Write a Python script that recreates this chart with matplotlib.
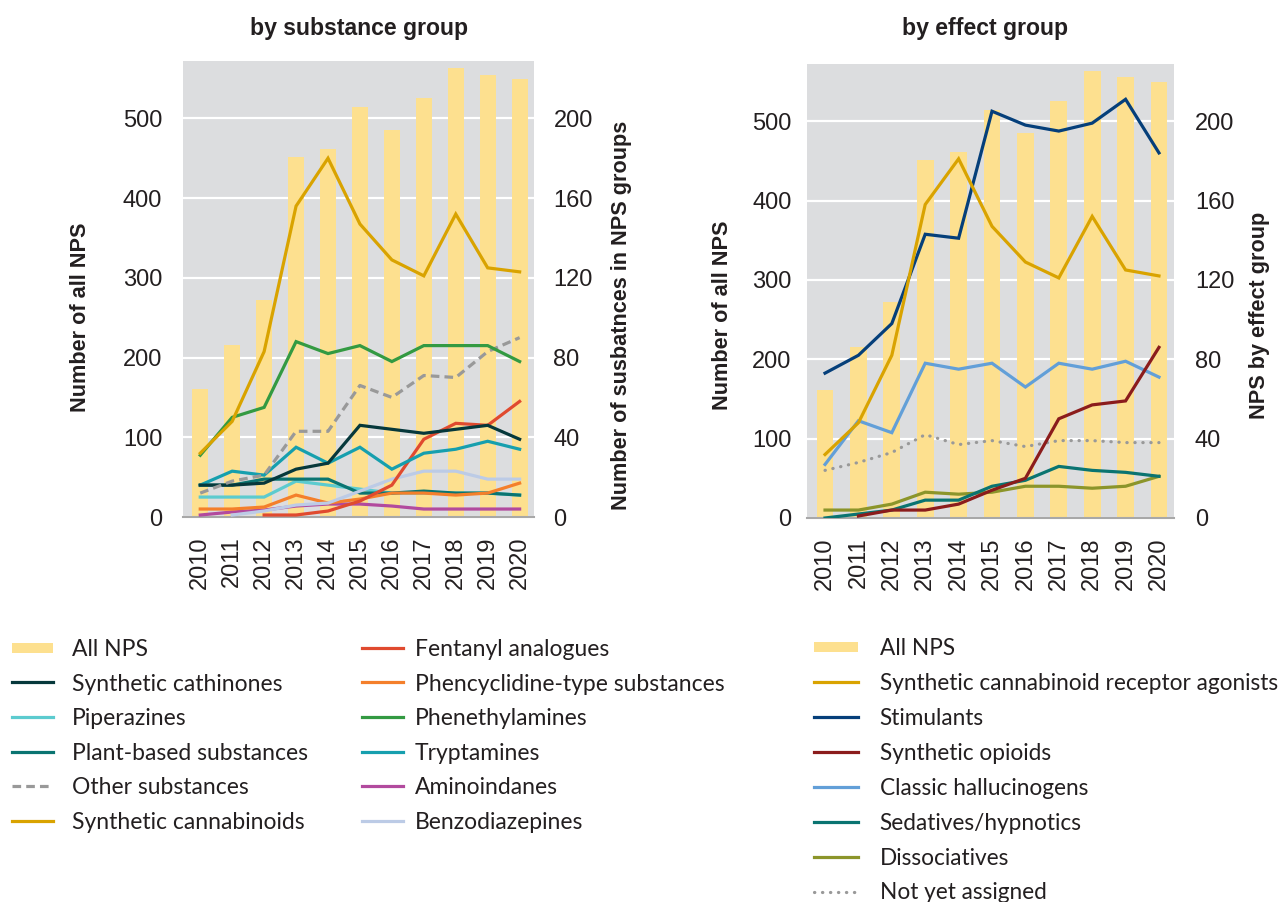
"""NPS notified to the EU Early Warning System, 2010-2020: by substance group and by effect group."""

import matplotlib
matplotlib.use("Agg")
import matplotlib.pyplot as plt
import numpy as np
from matplotlib.lines import Line2D
from matplotlib.patches import Patch

nan = np.nan

YEARS = [str(y) for y in range(2010, 2021)]
ALL_NPS = [161, 216, 272, 451, 461, 514, 485, 526, 563, 555, 549]

# --- substance groups (right axis, left panel) ---
SYNTH_CATHINONES = [16, 16, 17, 24, 27, 46, 44, 42, 44, 46, 39]
PIPERAZINES = [10, 10, 10, 18, 16, 14, 12, 12, 12, 12, 11]
PLANT_BASED = [16, 16, 19, 19, 19, 12, 12, 13, 12, 12, 11]
OTHER = [12, 18, 21, 43, 43, 66, 60, 71, 70, 83, 90]
SYNTH_CANNABINOIDS = [32, 48, 83, 156, 180, 147, 129, 121, 152, 125, 123]
FENTANYL = [nan, nan, 1, 1, 3, 8, 16, 39, 47, 46, 58]
PCP_TYPE = [4, 4, 5, 11, 7, 9, 12, 12, 11, 12, 17]
PHENETHYLAMINES = [31, 50, 55, 88, 82, 86, 78, 86, 86, 86, 78]
TRYPTAMINES = [16, 23, 21, 35, 27, 35, 24, 32, 34, 38, 34]
AMINOINDANES = [1, 2.5, 3.5, 5.5, 6.5, 6.5, 5.5, 4, 4, 4, 4]
BENZODIAZEPINES = [nan, 1, 3, 6, 7, 13, 19, 23, 23, 19, 19]

# --- effect groups (right axis, right panel) ---
SCRA = [32, 48, 82, 158, 181, 147, 129, 121, 152, 125, 122]
STIMULANTS = [73, 82, 98, 143, 141, 205, 198, 195, 199, 211, 184]
OPIOIDS = [nan, 1, 4, 4, 7, 14, 20, 50, 57, 59, 86]
HALLUCINOGENS = [27, 49, 43, 78, 75, 78, 66, 78, 75, 79, 71]
SEDATIVES = [0, 2, 4, 9, 9, 16, 19, 26, 24, 23, 21]
DISSOCIATIVES = [4, 4, 7, 13, 12, 13, 16, 16, 15, 16, 21]
NOT_ASSIGNED = [24, 28, 33, 42, 37, 39, 36, 39, 39, 38, 38]

BAR_COLOR = "#fde08f"
BG = "#dcdddf"
TXT = "#231f20"
DASH = (0, (2.7, 1.6))
DOT = (0, (0.1, 2.4))

SUBSTANCE_SERIES = [
    ("Synthetic cathinones", SYNTH_CATHINONES, "#06383b", "-"),
    ("Piperazines", PIPERAZINES, "#5ccbcf", "-"),
    ("Plant-based substances", PLANT_BASED, "#0a7471", "-"),
    ("Other substances", OTHER, "#999999", DASH),
    ("Synthetic cannabinoids", SYNTH_CANNABINOIDS, "#d9a300", "-"),
    ("Fentanyl analogues", FENTANYL, "#e04a2f", "-"),
    ("Phencyclidine-type substances", PCP_TYPE, "#f47f2b", "-"),
    ("Phenethylamines", PHENETHYLAMINES, "#339a42", "-"),
    ("Tryptamines", TRYPTAMINES, "#169fae", "-"),
    ("Aminoindanes", AMINOINDANES, "#b24a9e", "-"),
    ("Benzodiazepines", BENZODIAZEPINES, "#bccbe6", "-"),
]
# draw order (back to front)
SUBSTANCE_Z = ["Aminoindanes", "Piperazines", "Plant-based substances", "Phencyclidine-type substances",
               "Benzodiazepines", "Fentanyl analogues", "Tryptamines", "Synthetic cathinones",
               "Other substances", "Phenethylamines", "Synthetic cannabinoids"]

EFFECT_SERIES = [
    ("Synthetic cannabinoid receptor agonists", SCRA, "#d9a300", "-"),
    ("Stimulants", STIMULANTS, "#053f7a", "-"),
    ("Synthetic opioids", OPIOIDS, "#8b1c1c", "-"),
    ("Classic hallucinogens", HALLUCINOGENS, "#629fd8", "-"),
    ("Sedatives/hypnotics", SEDATIVES, "#0a7471", "-"),
    ("Dissociatives", DISSOCIATIVES, "#8c952a", "-"),
    ("Not yet assigned", NOT_ASSIGNED, "#999999", DOT),
]

LEG_FONT = "Lato"
TICK_SIZE = 17
plt.rcParams["font.family"] = ["Liberation Sans", "DejaVu Sans"]

W, H = 1281, 902
fig = plt.figure(figsize=(W / 100, H / 100), dpi=100)


def fx(px):
    return px / W


def fy(py):
    return 1 - py / H


def panel(rect, series, zorder_names, lpad, rpad):
    ax = fig.add_axes(rect)
    x = np.arange(len(YEARS))
    ax.set_facecolor(BG)
    ax.set_axisbelow(True)
    ax.bar(x, ALL_NPS, width=0.5, color=BAR_COLOR, zorder=2)
    ax.set_ylim(0, 572)
    ax.set_xlim(-0.54, 10.45)
    ax.set_yticks([0, 100, 200, 300, 400, 500])
    ax.grid(axis="y", color="white", lw=1.6)
    ax.set_xticks(x)
    ax.set_xticklabels(YEARS, rotation=90)
    for s in ["top", "left", "right"]:
        ax.spines[s].set_visible(False)
    ax.spines["bottom"].set_color("#a8a8a8")
    ax.spines["bottom"].set_linewidth(1.5)
    ax.tick_params(axis="y", length=0, pad=lpad, labelsize=TICK_SIZE, labelcolor=TXT)
    ax.tick_params(axis="x", length=0, pad=14, labelsize=TICK_SIZE, labelcolor=TXT)

    ax2 = ax.twinx()
    ax2.set_ylim(0, 572 * 0.4)
    ax2.set_yticks([0, 40, 80, 120, 160, 200])
    for s in ax2.spines.values():
        s.set_visible(False)
    ax2.tick_params(axis="y", length=0, pad=rpad, labelsize=TICK_SIZE, labelcolor=TXT)
    order = {n: i for i, n in enumerate(zorder_names)}
    for name, vals, color, ls in series:
        ax2.plot(x, vals, color=color, lw=2.3, linestyle=ls, zorder=3 + order.get(name, 0),
                 dash_capstyle="round" if ls == DOT else "butt", solid_joinstyle="miter")
    return ax


ax_l = panel([fx(183), fy(517), fx(351), 456 / H], SUBSTANCE_SERIES, SUBSTANCE_Z, 15, 14)
ax_r = panel([fx(807), fy(518), fx(367), 454 / H], EFFECT_SERIES,
             [n for n, *_ in EFFECT_SERIES][::-1], 11, 15)

# titles and axis labels
tkw = dict(ha="center", va="center", fontweight="bold", color=TXT)
fig.text(fx(359), fy(28), "by substance group", fontsize=16.6, **tkw)
fig.text(fx(985), fy(28), "by effect group", fontsize=16.6, **tkw)
lkw = dict(ha="center", va="center", rotation=90, fontweight="bold", color=TXT, fontsize=15.6)
fig.text(fx(80), fy(317), "Number of all NPS", **lkw)
fig.text(fx(622), fy(315), "Number of susbatnces in NPS groups", **lkw)
fig.text(fx(722), fy(315), "Number of all NPS", **lkw)
fig.text(fx(1260), fy(315), "NPS by effect group", **lkw)


def handle(color, ls):
    if ls == DOT:
        return Line2D([], [], color=color, lw=2.3, linestyle=ls, dash_capstyle="round")
    return Line2D([], [], color=color, lw=2.3, linestyle=ls)


def legend(handles, labels, x, y, size, hl, pad, spacing):
    leg = fig.legend(handles, labels, loc="upper left", bbox_to_anchor=(fx(x), fy(y)),
                     frameon=False, borderpad=0, borderaxespad=0, handlelength=hl,
                     handletextpad=pad, labelspacing=spacing,
                     prop={"family": [LEG_FONT, "DejaVu Sans"], "size": size})
    for t in leg.get_texts():
        t.set_color(TXT)
    # flatter swatch for the bar entry
    for p in leg.legend_handles:
        if isinstance(p, plt.Rectangle):
            h = p.get_height()
            p.set_y(p.get_y() + h * 0.18)
            p.set_height(h * 0.64)
    return leg


col1 = SUBSTANCE_SERIES[:5]
col2 = SUBSTANCE_SERIES[5:]
bar_handle = Patch(facecolor=BAR_COLOR, edgecolor="none")
legend([bar_handle] + [handle(c, ls) for _, _, c, ls in col1],
       ["All NPS"] + [n for n, *_ in col1], 12, 639, 16.5, 1.8, 0.8, 0.59)
legend([handle(c, ls) for _, _, c, ls in col2],
       [n for n, *_ in col2], 362, 639, 16.5, 1.8, 0.5, 0.59)
legend([bar_handle] + [handle(c, ls) for _, _, c, ls in EFFECT_SERIES],
       ["All NPS"] + [n for n, *_ in EFFECT_SERIES], 814, 638, 16.3, 1.95, 0.95, 0.615)

fig.savefig("out.png", dpi=100)
